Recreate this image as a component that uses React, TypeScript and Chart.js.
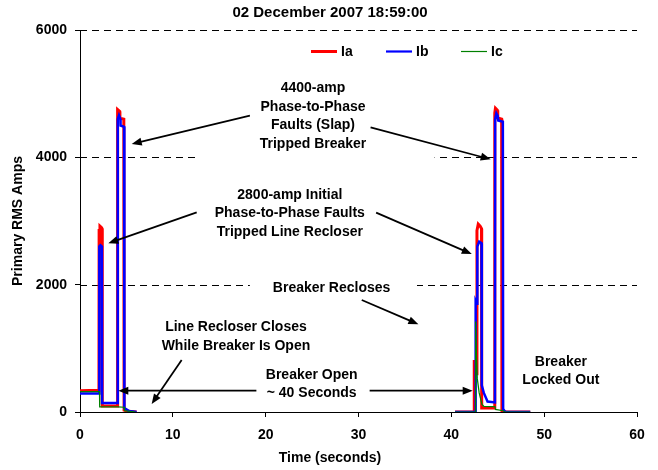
import React, { useEffect, useRef } from 'react';
import { Chart, registerables } from 'chart.js';

Chart.register(...registerables);

// ---- data ----
const chartTitle = '02 December 2007 18:59:00';
const xAxisTitle = 'Time (seconds)';
const yAxisTitle = 'Primary RMS Amps';
const xTickValues = [0, 10, 20, 30, 40, 50, 60];
const yTickValues = [0, 2000, 4000, 6000];
const seriesNames = ['Ia', 'Ib', 'Ic'];
const seriesColors = ['#ff0000', '#0000ff', '#008000'];

const iaTime = [0, 2.04, 2.06, 2.15, 2.3, 2.38, 2.4, 4.0, 4.02, 4.08, 4.28, 4.3, 4.72, 4.75, 5.2, 6.1,
  20,
  40.4, 42.45, 42.47, 42.6, 42.74, 42.76, 42.9, 43.1, 43.25, 43.27, 44.66, 44.68, 44.75, 44.95, 45.0, 45.42, 45.45, 45.9, 48.5];
const iaAmps = [335, 340, 2850, 2920, 2900, 2880, 95, 95, 4700, 4750, 4720, 4615, 4600, 30, 10, 0,
  null,
  0, 0, 816, 700, 600, 2850, 2950, 2920, 2880, 63, 63, 4700, 4770, 4740, 4620, 4600, 20, 0, 0];

const ibTime = [0, 2.06, 2.08, 2.2, 2.36, 2.38, 4.05, 4.07, 4.2, 4.35, 4.37, 4.75, 4.78, 5.3, 6.1,
  20,
  40.4, 42.6, 42.62, 42.78, 42.8, 43.0, 43.25, 43.28, 43.5, 43.9, 44.7, 44.72, 44.85, 45.0, 45.05, 45.55, 45.58, 45.8, 48.5];
const ibAmps = [290, 290, 2600, 2620, 2600, 140, 140, 4600, 4660, 4600, 4500, 4480, 60, 15, 0,
  null,
  0, 0, 1750, 1700, 2600, 2675, 2650, 420, 300, 165, 150, 4600, 4690, 4650, 4580, 4560, 50, 0, 0];

const icTime = [0, 2.1, 2.12, 4.05, 4.75, 4.8, 6.0,
  20,
  40.4, 42.6, 42.62, 42.7, 42.8, 43.0, 43.3, 43.5, 44.7, 44.75, 45.6, 45.8, 48.5];
const icAmps = [320, 320, 80, 80, 75, 20, 0,
  null,
  0, 0, 1420, 900, 520, 300, 120, 90, 85, 40, 20, 0, 0];

// annotation texts (anchor = centre of first line, in time / amps)
const noteLines = [
  ['4400-amp', 'Phase-to-Phase', 'Faults (Slap)', 'Tripped Breaker'],
  ['2800-amp Initial', 'Phase-to-Phase Faults', 'Tripped Line Recloser'],
  ['Breaker Recloses'],
  ['Line Recloser Closes', 'While Breaker Is Open'],
  ['Breaker Open', '~ 40 Seconds'],
  ['Breaker', 'Locked Out'],
];
const noteTime = [25.1, 22.6, 27.1, 16.8, 24.96, 51.8];
const noteAmps = [5084, 3408, 1942, 1330, 581, 790];

// arrows: from (time, amps) to (time, amps)
const arrowFromTime = [18.3, 31.3, 12.57, 31.9, 30.35, 10.95, 19.0, 31.2];
const arrowFromAmps = [4654, 4472, 3136, 3131, 1759, 817, 334, 334];
const arrowToTime = [5.57, 44.24, 3.05, 42.2, 36.45, 7.72, 4.13, 42.3];
const arrowToAmps = [4209, 3969, 2650, 2480, 1377, 126, 334, 334];

// white text-box fills that hide the gridlines
const boxTime = [[12.4, 38.2], [18.3, 36.3]];
const boxAmps = [[3958, 5309], [1790, 2105]];

const FONT = '"Liberation Sans", Arial, sans-serif';
const FS = 14;

function pts(t: number[], v: (number | null)[]) {
  return t.map((x, i) => ({ x, y: v[i] }));
}

function drawArrow(ctx: CanvasRenderingContext2D, x1: number, y1: number, x2: number, y2: number) {
  const a = Math.atan2(y2 - y1, x2 - x1);
  const head = 10, hw = 4;
  const c = Math.cos(a), s = Math.sin(a);
  ctx.beginPath();
  ctx.moveTo(x1, y1);
  ctx.lineTo(x2 - head * 0.8 * c, y2 - head * 0.8 * s);
  ctx.stroke();
  ctx.beginPath();
  ctx.moveTo(x2, y2);
  ctx.lineTo(x2 - head * c + hw * s, y2 - head * s - hw * c);
  ctx.lineTo(x2 - head * c - hw * s, y2 - head * s + hw * c);
  ctx.closePath();
  ctx.fill();
}

const decorPlugin = {
  id: 'decor',
  beforeDatasetsDraw(chart: any) {
    const { ctx, chartArea, scales } = chart;
    const xs = scales.x, ys = scales.y;
    ctx.save();
    ctx.strokeStyle = '#000';
    ctx.lineWidth = 1;
    ctx.setLineDash([7, 5]);
    yTickValues.filter((v) => v > 0).forEach((v) => {
      const py = Math.round(ys.getPixelForValue(v)) + 0.5;
      ctx.beginPath();
      ctx.moveTo(chartArea.left, py);
      ctx.lineTo(chartArea.right, py);
      ctx.stroke();
    });
    ctx.setLineDash([]);
    ctx.fillStyle = '#fff';
    boxTime.forEach((bt, i) => {
      const x1 = xs.getPixelForValue(bt[0]);
      const x2 = xs.getPixelForValue(bt[1]);
      const y1 = ys.getPixelForValue(boxAmps[i][1]);
      const y2 = ys.getPixelForValue(boxAmps[i][0]);
      ctx.fillRect(x1, y1, x2 - x1, y2 - y1);
    });
    ctx.restore();
  },
  afterDatasetsDraw(chart: any) {
    const { ctx, chartArea, scales } = chart;
    const xs = scales.x, ys = scales.y;
    ctx.save();
    ctx.fillStyle = '#000';
    ctx.strokeStyle = '#000';
    ctx.font = `bold ${FS}px ${FONT}`;
    ctx.textAlign = 'center';
    ctx.textBaseline = 'middle';
    noteLines.forEach((lines, i) => {
      const cx = xs.getPixelForValue(noteTime[i]);
      const cy = ys.getPixelForValue(noteAmps[i]);
      lines.forEach((ln, j) => ctx.fillText(ln, cx, cy + j * 18.6));
    });
    ctx.lineWidth = 1.75;
    arrowFromTime.forEach((t, i) => {
      drawArrow(ctx, xs.getPixelForValue(t), ys.getPixelForValue(arrowFromAmps[i]),
        xs.getPixelForValue(arrowToTime[i]), ys.getPixelForValue(arrowToAmps[i]));
    });
    // legend
    const widths = [3, 2.2, 1.2];
    const ly = chartArea.top + 21.5;
    ctx.textAlign = 'left';
    seriesNames.forEach((n, i) => {
      const sx = chartArea.left + 231 + i * 75;
      ctx.strokeStyle = seriesColors[i];
      ctx.lineWidth = widths[i];
      ctx.beginPath();
      ctx.moveTo(sx, ly);
      ctx.lineTo(sx + 26, ly);
      ctx.stroke();
      ctx.fillStyle = '#000';
      ctx.fillText(n, sx + 30, ly + 1);
    });
    ctx.restore();
  },
  afterDraw(chart: any) {
    const { ctx, chartArea, width } = chart;
    ctx.save();
    ctx.fillStyle = '#000';
    ctx.textAlign = 'center';
    ctx.textBaseline = 'middle';
    ctx.font = `bold 15px ${FONT}`;
    ctx.fillText(chartTitle, width / 2 + 1, 13);
    ctx.font = `bold ${FS}px ${FONT}`;
    ctx.fillText(xAxisTitle, width / 2 + 1, 458);
    ctx.translate(18, (chartArea.top + chartArea.bottom) / 2);
    ctx.rotate(-Math.PI / 2);
    ctx.fillText(yAxisTitle, 0, 0);
    ctx.restore();
  },
};

export default function App() {
  const ref = useRef<HTMLCanvasElement | null>(null);
  useEffect(() => {
    document.body.style.margin = '0';
    const canvas = ref.current!;
    const chart = new Chart(canvas, {
      type: 'line',
      data: {
        datasets: [
          { label: seriesNames[0], data: pts(iaTime, iaAmps), borderColor: seriesColors[0], borderWidth: 3, order: 3 },
          { label: seriesNames[1], data: pts(ibTime, ibAmps), borderColor: seriesColors[1], borderWidth: 2.5, order: 2 },
          { label: seriesNames[2], data: pts(icTime, icAmps), borderColor: seriesColors[2], borderWidth: 1.25, order: 1 },
        ] as any,
      },
      options: {
        responsive: false,
        animation: false,
        spanGaps: false,
        elements: { point: { radius: 0 }, line: { tension: 0, borderJoinStyle: 'miter' } },
        layout: { padding: { top: 30, right: 21, left: 0, bottom: 0 } },
        plugins: { legend: { display: false }, tooltip: { enabled: false }, title: { display: false } },
        scales: {
          x: {
            type: 'linear',
            min: 0,
            max: 60,
            afterBuildTicks: (s: any) => { s.ticks = xTickValues.map((v) => ({ value: v })); },
            afterFit: (s: any) => { s.height = 58; },
            ticks: { color: '#000', font: { family: FONT, size: FS, weight: 'bold' }, padding: 10, maxRotation: 0,
              callback: (v: any) => String(v) },
            grid: { drawOnChartArea: false, drawTicks: true, tickLength: 5, color: '#000' },
            border: { color: '#000', width: 1 },
          },
          y: {
            type: 'linear',
            min: 0,
            max: 6000,
            afterBuildTicks: (s: any) => { s.ticks = yTickValues.map((v) => ({ value: v })); },
            afterFit: (s: any) => { s.width = 80; },
            ticks: { color: '#000', font: { family: FONT, size: FS, weight: 'bold' }, padding: 8,
              callback: (v: any) => String(v) },
            grid: { drawOnChartArea: false, drawTicks: true, tickLength: 5, color: '#000' },
            border: { color: '#000', width: 1 },
          },
        },
      } as any,
      plugins: [decorPlugin],
    });
    return () => chart.destroy();
  }, []);
  return <canvas ref={ref} width={658} height={470} style={{ display: 'block' }} />;
}
